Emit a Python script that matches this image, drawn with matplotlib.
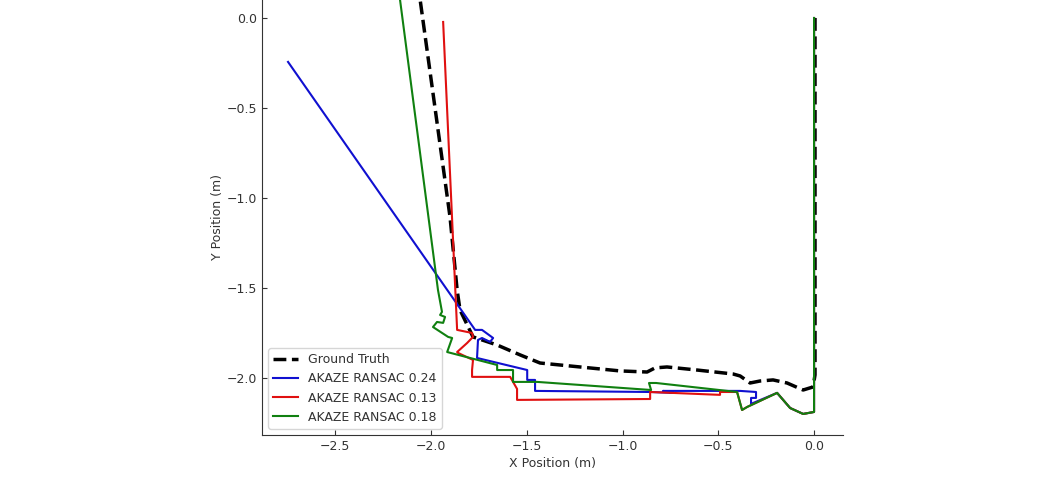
import matplotlib
matplotlib.use("Agg")
import matplotlib.pyplot as plt

# trajectories in metres
gt_x = [0.005, 0.005, -0.005, -0.057, -0.141, -0.214, -0.282, -0.334, -0.386, -0.423,
        -0.611, -0.768, -0.830, -0.872, -1.013, -1.222, -1.431, -1.535, -1.655, -1.781,
        -1.849, -1.864, -1.901, -2.057, -2.070]
gt_y = [0.0, -1.983, -2.050, -2.067, -2.028, -2.011, -2.017, -2.028, -1.989, -1.978,
        -1.956, -1.939, -1.944, -1.967, -1.961, -1.939, -1.917, -1.872, -1.817, -1.772,
        -1.622, -1.511, -1.106, 0.100, 0.160]

blue_x = [0.0, 0.0, -0.057, -0.125, -0.193, -0.329, -0.329, -0.303, -0.303, -0.386,
          -0.789, -0.736, -0.856, -1.457, -1.457, -1.498, -1.498, -1.760, -1.755, -1.734,
          -1.692, -1.676, -1.734, -1.770, -2.747]
blue_y = [0.0, -2.189, -2.200, -2.167, -2.083, -2.144, -2.111, -2.111, -2.078, -2.072,
          -2.072, -2.083, -2.078, -2.072, -2.011, -2.011, -1.956, -1.889, -1.789, -1.778,
          -1.800, -1.778, -1.733, -1.733, -0.244]

red_x = [0.0, 0.0, -0.057, -0.125, -0.193, -0.349, -0.376, -0.402, -0.491, -0.491,
         -0.856, -0.856, -1.551, -1.551, -1.587, -1.786, -1.786, -1.781, -1.859, -1.864,
         -1.812, -1.781, -1.786, -1.864, -1.937]
red_y = [0.0, -2.189, -2.200, -2.167, -2.083, -2.161, -2.178, -2.078, -2.078, -2.094,
         -2.078, -2.117, -2.122, -2.061, -1.994, -1.994, -1.956, -1.900, -1.861, -1.856,
         -1.806, -1.772, -1.750, -1.733, -0.022]

green_x = [0.0, 0.0, -0.057, -0.125, -0.193, -0.349, -0.376, -0.402, -0.825, -0.862,
           -0.851, -1.446, -1.572, -1.572, -1.655, -1.655, -1.916, -1.890, -1.911, -1.990,
           -1.969, -1.937, -1.927, -1.953, -1.943, -1.964, -2.162, -2.172]
green_y = [0.0, -2.189, -2.200, -2.167, -2.083, -2.161, -2.178, -2.078, -2.028, -2.028,
           -2.067, -2.022, -2.022, -1.956, -1.956, -1.928, -1.856, -1.778, -1.772, -1.717,
           -1.689, -1.694, -1.661, -1.650, -1.633, -1.511, 0.100, 0.160]

labels = ["Ground Truth", "AKAZE RANSAC 0.24", "AKAZE RANSAC 0.13", "AKAZE RANSAC 0.18"]

plt.rcParams["font.size"] = 9
plt.rcParams["text.color"] = "#333333"
plt.rcParams["axes.labelcolor"] = "#333333"
plt.rcParams["xtick.color"] = "#333333"
plt.rcParams["ytick.color"] = "#333333"
plt.rcParams["xtick.direction"] = "in"
plt.rcParams["ytick.direction"] = "in"

fig = plt.figure(figsize=(10.59, 4.8), dpi=100)
ax = fig.add_axes([0.2474, 0.09375, 0.5486, 0.90625])

ax.plot(gt_x, gt_y, "k--", linewidth=2.5, label=labels[0])
ax.plot(blue_x, blue_y, color="#1010d0", linewidth=1.5, label=labels[1])
ax.plot(red_x, red_y, color="#e01010", linewidth=1.5, label=labels[2])
ax.plot(green_x, green_y, color="#108010", linewidth=1.5, label=labels[3])

ax.set_xlim(-2.883, 0.151)
ax.set_ylim(-2.317, 0.1)
ax.set_xticks([-2.5, -2.0, -1.5, -1.0, -0.5, 0.0])
ax.set_yticks([0.0, -0.5, -1.0, -1.5, -2.0])
ax.set_xlabel("X Position (m)", labelpad=3)
ax.set_ylabel("Y Position (m)", labelpad=2)
ax.spines["top"].set_visible(False)
ax.spines["right"].set_visible(False)
for s in ("left", "bottom"):
    ax.spines[s].set_color("#333333")
ax.legend(loc="lower left")

fig.savefig("out.png", dpi=100)
